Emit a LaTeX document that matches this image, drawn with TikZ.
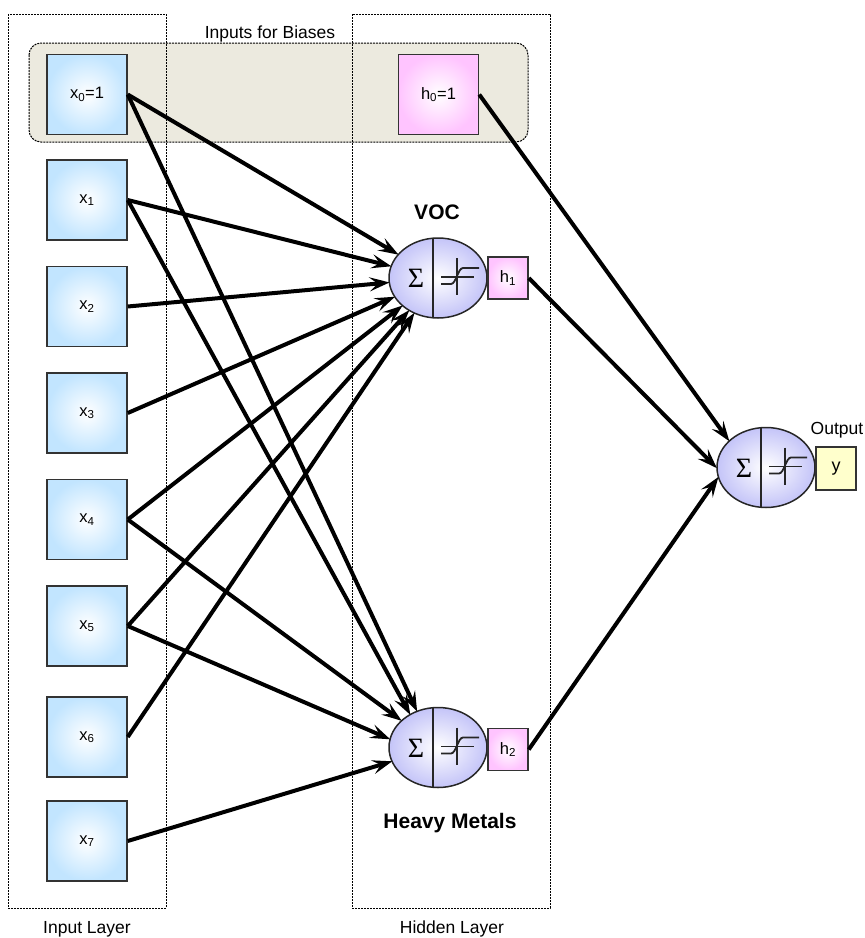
\documentclass[tikz,border=0pt]{standalone}
\usepackage{fontspec}
\setmainfont{Liberation Sans}
\newfontfamily\sigmafont{Liberation Serif}
\usetikzlibrary{arrows.meta,shapes.geometric,calc}
\definecolor{boxblue}{HTML}{C2E5FF}
\definecolor{boxpink}{HTML}{FFC4FF}
\definecolor{cellblue}{HTML}{C4C4F8}
\definecolor{outyellow}{HTML}{FFFFCC}
\definecolor{bandgray}{HTML}{ECEADF}
\begin{document}
\begin{tikzpicture}[x=1pt,y=-1pt,
  layerbox/.style={draw=black, line width=1pt, dash pattern=on 2pt off 1pt},
  band/.style={draw=black, line width=1pt, dash pattern=on 2pt off 1pt, fill=bandgray, rounded corners=12pt},
  inbox/.style={draw=black!80, line width=1.5pt, minimum width=80pt, minimum height=80pt, inner sep=0pt,
    inner color=white, outer color=boxblue, font=\fontsize{16.5}{18}\selectfont},
  biasbox/.style={inbox, outer color=boxpink},
  hbox/.style={draw=black!80, line width=1.5pt, minimum width=40pt, minimum height=42pt, inner sep=0pt,
    inner color=white, outer color=boxpink, font=\fontsize{16.5}{18}\selectfont},
  ybox/.style={draw=black!80, line width=1.5pt, minimum width=40pt, minimum height=43pt, inner sep=0pt,
    fill=outyellow, font=\fontsize{18}{20}\selectfont},
  cell/.style={ellipse, draw=black!85, line width=1.5pt, minimum width=98pt, minimum height=80pt, inner sep=0pt,
    inner color=white, outer color=cellblue},
  symline/.style={line width=1.8pt, black!85},
  conn/.style={line width=4pt, -{Stealth[length=20pt,width=14pt,inset=8pt]}, shorten >=-1pt},
  plain/.style={font=\fontsize{17.5}{19}\selectfont},
  title/.style={font=\fontsize{21}{23}\selectfont\bfseries},
  neuronsym/.pic={
    \draw[symline] (-5,-39.5) -- (-5,39.5);
    \node[inner sep=0pt] (-sig) at (-22,0.5) {\sigmafont\fontsize{28}{28}\selectfont Σ};
    \draw[symline] (19,-20) -- (19,17);
    \draw[symline] (3,-1) -- (36,-1);
    \draw[symline] (3,6) -- (13,6) .. controls (18,6) and (20,-10) .. (25,-10) -- (41,-10);
  }
]
\useasboundingbox (0,0) rectangle (865,938);

% bias band and layer frames
\draw[band] (29,43) rectangle (528,142);
\draw[layerbox] (8,14) rectangle (166,908);
\draw[layerbox] (352,14) rectangle (550,908);

% input nodes
\node[inbox] (x0) at (87,94.5) {x\textsubscript{0}=1};
\node[inbox] (x1) at (87,200) {x\textsubscript{1}};
\node[inbox] (x2) at (87,306.5) {x\textsubscript{2}};
\node[inbox] (x3) at (87,413) {x\textsubscript{3}};
\node[inbox] (x4) at (87,519.5) {x\textsubscript{4}};
\node[inbox] (x5) at (87,626) {x\textsubscript{5}};
\node[inbox] (x6) at (87,737) {x\textsubscript{6}};
\node[inbox] (x7) at (87,841) {x\textsubscript{7}};

% hidden layer
\node[biasbox] (h0) at (438.5,94.5) {h\textsubscript{0}=1};
\node[cell] (voc) at (438,278) {};
\node[cell] (hm) at (438,747.5) {};
\node[hbox] (h1) at (508,278) {h\textsubscript{1}};
\node[hbox] (h2) at (508,749.5) {h\textsubscript{2}};

% output neuron
\node[cell] (out) at (766,467.5) {};
\node[ybox] (y) at (836,468.5) {y};

% neuron symbols
\pic (vocsym) at (voc) {neuronsym};
\pic (hmsym) at (hm) {neuronsym};
\pic (outsym) at (out) {neuronsym};

% labels
\node[plain] (lbias) at (270,34) {Inputs for Biases};
\node[title] (lvoc) at (437,212) {VOC};
\node[title] (lhm) at (450,823) {Heavy Metals};
\node[plain] (lout) at (837,430) {Output};
\node[plain] (lin) at (87,929) {Input Layer};
\node[plain] (lhid) at (452,929) {Hidden Layer};

% connections into VOC
\draw[conn] (x0.east) -- (voc);
\draw[conn] (x1.east) -- (voc);
\draw[conn] (x2.east) -- (voc);
\draw[conn] (x3.east) -- (voc);
\draw[conn] (x4.east) -- (voc);
\draw[conn] (x5.east) -- (voc);
\draw[conn] (x6.east) -- (voc);

% connections into Heavy Metals
\draw[conn] (x0.east) -- (hm.120);
\draw[conn] (x1.east) -- (hm.130);
\draw[conn] (x4.east) -- (hm);
\draw[conn] (x5.east) -- (hm.170);
\draw[conn] (x7.east) -- (hm);

% connections into the output
\draw[conn] (h0.east) -- (out.144);
\draw[conn] (h1.east) -- (out.west);
\draw[conn] (h2.east) -- (out.192);
\end{tikzpicture}
\end{document}
